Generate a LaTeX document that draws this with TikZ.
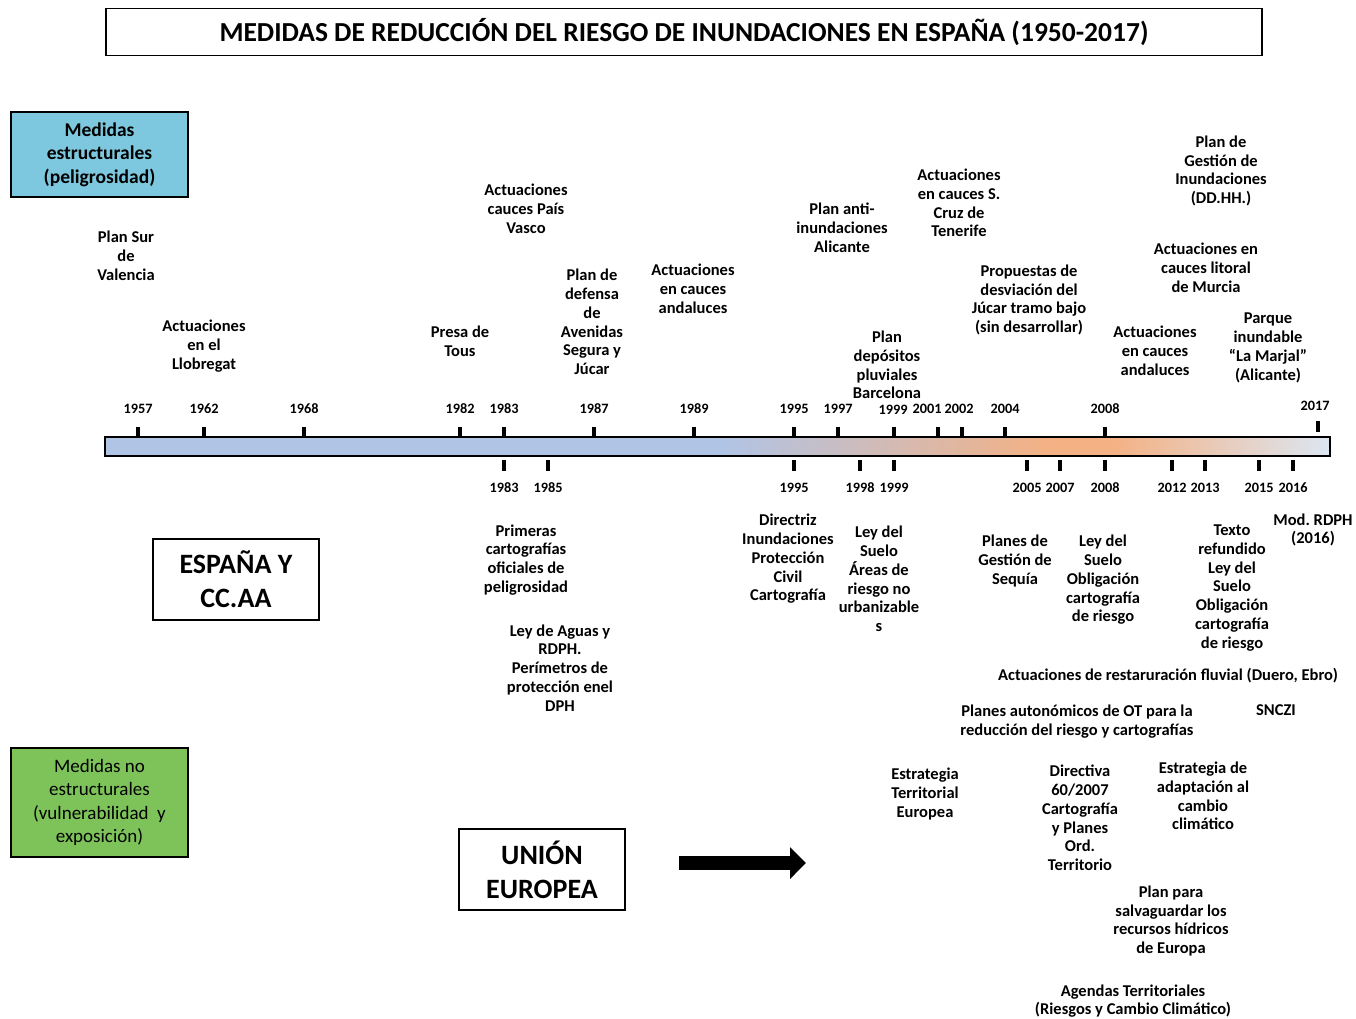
\documentclass[tikz,border=0pt]{standalone}
\usepackage{fontspec}
\setmainfont{Carlito}
\usetikzlibrary{arrows.meta}
\definecolor{boxblue}{RGB}{125,200,222}
\definecolor{boxgreen}{RGB}{125,195,90}
\definecolor{barblue}{RGB}{176,196,230}
\definecolor{barorange}{RGB}{244,177,131}
\definecolor{barend}{RGB}{220,230,242}
\tikzset{
  lbl/.style={align=center,inner sep=0pt,font=\bfseries\fontsize{16.5}{18.8}\selectfont},
  yr/.style={inner sep=0pt,font=\bfseries\fontsize{14.3}{15}\selectfont},
  frame/.style={draw,line width=1.6pt,align=center,inner sep=0pt},
  tick/.style={line width=3.5pt}
}
\begin{document}
\begin{tikzpicture}[x=1pt,y=-1pt]
\useasboundingbox (0,0) rectangle (1356,1019);
% title and boxes
\node[frame,minimum width=1156pt,minimum height=47pt,font=\bfseries\fontsize{27.5}{30}\selectfont] (title) at (684,32) {MEDIDAS DE REDUCCIÓN DEL RIESGO DE INUNDACIONES EN ESPAÑA (1950-2017)};
\node[frame,fill=boxblue,minimum width=177pt,minimum height=85pt,font=\bfseries\fontsize{19.5}{23.5}\selectfont] (estr) at (99.5,154.5) {Medidas\\estructurales\\(peligrosidad)};
\node[frame,fill=boxgreen,minimum width=177pt,minimum height=109pt,font=\fontsize{19}{23.5}\selectfont] (noestr) at (99.5,802.5) {Medidas no\\estructurales\\(vulnerabilidad~ y\\exposición)};
\node[frame,minimum width=166pt,minimum height=81pt,font=\bfseries\fontsize{28}{34}\selectfont] (espana) at (236,579.5) {ESPAÑA Y\\CC.AA};
\node[frame,minimum width=166pt,minimum height=81pt,font=\bfseries\fontsize{28}{34}\selectfont] (ue) at (542,869.5) {UNIÓN\\EUROPEA};
\coordinate (arrS) at (679,863);
\coordinate (arrE) at (806,863);
\draw[line width=14pt,-{Triangle[length=16pt,width=31pt]}] (arrS) -- (arrE);

% timeline bar
\fill[barblue] (105,437) rectangle (720,456);
\shade[left color=barblue,right color=barorange] (720,437) rectangle (1050,456);
\fill[barorange] (1050,437) rectangle (1110,456);
\shade[left color=barorange,right color=barend] (1110,437) rectangle (1330,456);
\draw[line width=2pt] (105,437) rectangle (1330,456);

\foreach \x/\y in {138/1957,204/1962,304/1968,460/1982,504/1983,594/1987,694/1989,794/1995,838/1997,894/1999,938/2001,962/2002,1005/2004,1105/2008}{
  \draw[tick] (\x,427) -- (\x,437);
}
\draw[tick] (1318,421) -- (1318,432);
\foreach \x/\y in {138/1957,204/1962,304/1968,460/1982,504/1983,594/1987,694/1989,794/1995,838/1997,1005/2004,1105/2008}
  \node[yr] (u\y) at (\x,409) {\y};
\node[yr] (u1999) at (893,410) {1999};
\node[yr] (u2001) at (927,409) {2001};
\node[yr] (u2002) at (959,409) {2002};
\node[yr] (u2017) at (1315,406) {2017};

\foreach \x/\y in {504/1983,548/1985,794/1995,860/1998,894/1999,1027/2005,1060/2007,1105/2008,1172/2012,1205/2013,1259/2015,1293/2016}{
  \draw[tick] (\x,460) -- (\x,471);
  \node[yr] (d\y) at (\x,488) {\y};
}

% structural measures
\node[lbl] (plansur) at (126,256) {Plan Sur\\de\\Valencia};
\node[lbl] (llobregat) at (204,346) {Actuaciones\\en el\\Llobregat};
\node[lbl] (tous) at (460,341) {Presa de\\Tous};
\node[lbl] (vasco) at (526,209) {Actuaciones\\cauces País\\Vasco};
\node[lbl] (segura) at (592,322) {Plan de\\defensa\\de\\Avenidas\\Segura y\\Júcar};
\node[lbl] (andal1) at (693,289) {Actuaciones\\en cauces\\andaluces};
\node[lbl] (alicante) at (842,228) {Plan anti-\\inundaciones\\Alicante};
\node[lbl] (tenerife) at (959,203) {Actuaciones\\en cauces S.\\Cruz de\\Tenerife};
\node[lbl] (barcelona) at (887,365) {Plan\\depósitos\\pluviales\\Barcelona};
\node[lbl] (jucar) at (1029,300) {Propuestas de\\desviación del\\Júcar tramo bajo\\(sin desarrollar)};
\node[lbl] (gestion) at (1221,171) {Plan de\\Gestión de\\Inundaciones\\(DD.HH.)};
\node[lbl] (murcia) at (1206,268) {Actuaciones en\\cauces litoral\\de Murcia};
\node[lbl] (andal2) at (1155,351) {Actuaciones\\en cauces\\andaluces};
\node[lbl] (marjal) at (1268,348) {Parque\\inundable\\“La Marjal”\\(Alicante)};

% non-structural measures
\node[lbl] (primeras) at (526,560) {Primeras\\cartografías\\oficiales de\\peligrosidad};
\node[lbl] (aguas) at (560,668) {Ley de Aguas y\\RDPH.\\Perímetros de\\protección enel\\DPH};
\node[lbl] (directriz) at (788,559) {Directriz\\Inundaciones\\Protección\\Civil\\Cartografía};
\node[lbl] (suelo1) at (879,579) {Ley del\\Suelo\\Áreas de\\riesgo no\\urbanizable\\s};
\node[lbl] (sequia) at (1015,561) {Planes de\\Gestión de\\Sequía};
\node[lbl] (suelo2) at (1103,580) {Ley del\\Suelo\\Obligación\\cartografía\\de riesgo};
\node[lbl] (texto) at (1232,588) {Texto\\refundido\\Ley del\\Suelo\\Obligación\\cartografía\\de riesgo};
\node[lbl] (rdph) at (1313,530) {Mod.\ RDPH\\(2016)};
\node[lbl] (restaur) at (1168,676) {Actuaciones de restaruración fluvial (Duero, Ebro)};
\node[lbl] (autonom) at (1077,722) {Planes autonómicos de OT para la\\reducción del riesgo y cartografías};
\node[lbl] (snczi) at (1276,710) {SNCZI};
\node[lbl] (ete) at (925,794) {Estrategia\\Territorial\\Europea};
\node[lbl] (directiva) at (1080,818) {Directiva\\60/2007\\Cartografía\\y Planes\\Ord.\\Territorio};
\node[lbl] (clima) at (1203,796) {Estrategia de\\adaptación al\\cambio\\climático};
\node[lbl] (hidricos) at (1171,921) {Plan para\\salvaguardar los\\recursos hídricos\\de Europa};
\node[lbl] (agendas) at (1133,1001) {Agendas Territoriales\\(Riesgos y Cambio Climático)};
\end{tikzpicture}
\end{document}
